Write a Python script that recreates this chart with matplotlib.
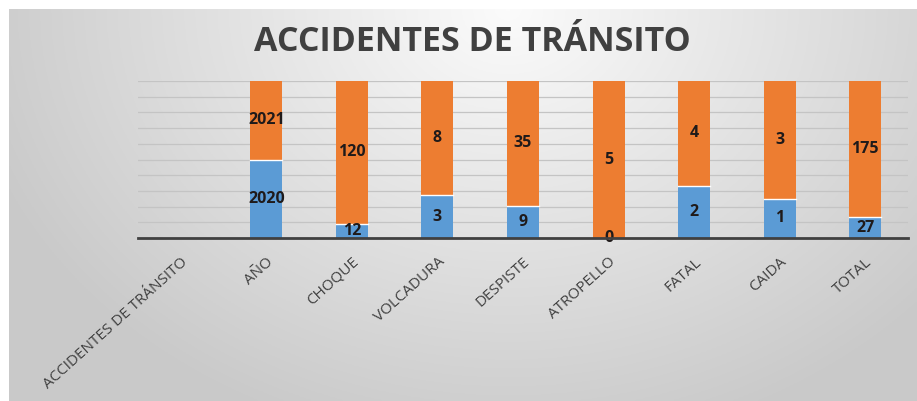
import numpy as np
import matplotlib.pyplot as plt

# datos del gráfico
categorias = ['ACCIDENTES DE TRÁNSITO', 'AÑO', 'CHOQUE', 'VOLCADURA', 'DESPISTE',
              'ATROPELLO', 'FATAL', 'CAIDA', 'TOTAL']
serie_2020 = [None, 2020, 12, 3, 9, 0, 2, 1, 27]
serie_2021 = [None, 2021, 120, 8, 35, 5, 4, 3, 175]

azul = '#5B9BD5'
naranja = '#ED7D31'

plt.rcParams['font.family'] = ['Open Sans', 'DejaVu Sans']

fig = plt.figure(figsize=(9.17, 4.01), dpi=100)

# fondo degradado (gris en los bordes, claro arriba al centro)
bg = fig.add_axes([9 / 917, 0, 1 - 9 / 917, 1 - 9 / 401])
yy, xx = np.mgrid[0:1:200j, 0:1:400j]
d = np.sqrt(((xx - 0.55) / 0.75) ** 2 + ((yy - 0.0) / 1.4) ** 2)
g = np.clip(0.985 - 0.24 * d, 0.79, 0.985)
bg.imshow(np.dstack([g, g, g]), aspect='auto', extent=[0, 1, 1, 0])
bg.axis('off')

ax = fig.add_axes([138 / 917, (401 - 238) / 401, (908 - 138) / 917, (238 - 81) / 401])
ax.patch.set_alpha(0)

x = np.arange(len(categorias))
a = np.array([v if v is not None else 0 for v in serie_2020], dtype=float)
b = np.array([v if v is not None else 0 for v in serie_2021], dtype=float)
tot = a + b
tot[tot == 0] = 1
pa = a / tot
pb = b / tot

ax.bar(x, pa, width=0.375, color=azul, zorder=3)
ax.bar(x, pb, width=0.375, bottom=pa, color=naranja, zorder=3, linewidth=0)
# separación blanca entre segmentos
for i in range(1, len(x)):
    if 0 < pa[i] < 1:
        ax.plot([x[i] - 0.1875, x[i] + 0.1875], [pa[i], pa[i]], color='white', lw=1, zorder=4)

# etiquetas de datos
for i in range(1, len(x)):
    ax.text(x[i], pa[i] / 2, str(serie_2020[i]), ha='center', va='center',
            fontsize=11.5, fontweight='bold', color='#1f1a1a', zorder=5)
    ax.text(x[i], pa[i] + pb[i] / 2, str(serie_2021[i]), ha='center', va='center',
            fontsize=11.5, fontweight='bold', color='#1f1a1a', zorder=5)

ax.set_xlim(-0.5, len(x) - 0.5)
ax.set_ylim(0, 1)
ax.set_yticks(np.arange(0.1, 1.01, 0.1))
ax.yaxis.grid(True, color='#c4c4c4', lw=0.9, zorder=0)
ax.tick_params(axis='y', left=False, labelleft=False)
ax.tick_params(axis='x', length=0, pad=12)
for s in ['top', 'right', 'left']:
    ax.spines[s].set_visible(False)
ax.spines['bottom'].set_color('#404040')
ax.spines['bottom'].set_linewidth(2)
ax.spines['bottom'].set_zorder(6)

ax.set_xticks(x)
ax.set_xticklabels(categorias, rotation=42, ha='right', rotation_mode='anchor',
                   fontsize=11, color='#404040')

fig.text(0.515, 0.895, 'ACCIDENTES DE TRÁNSITO', ha='center', va='center',
         fontsize=24.5, fontweight='bold', color='#404040')

plt.savefig('out.png', dpi=100)
